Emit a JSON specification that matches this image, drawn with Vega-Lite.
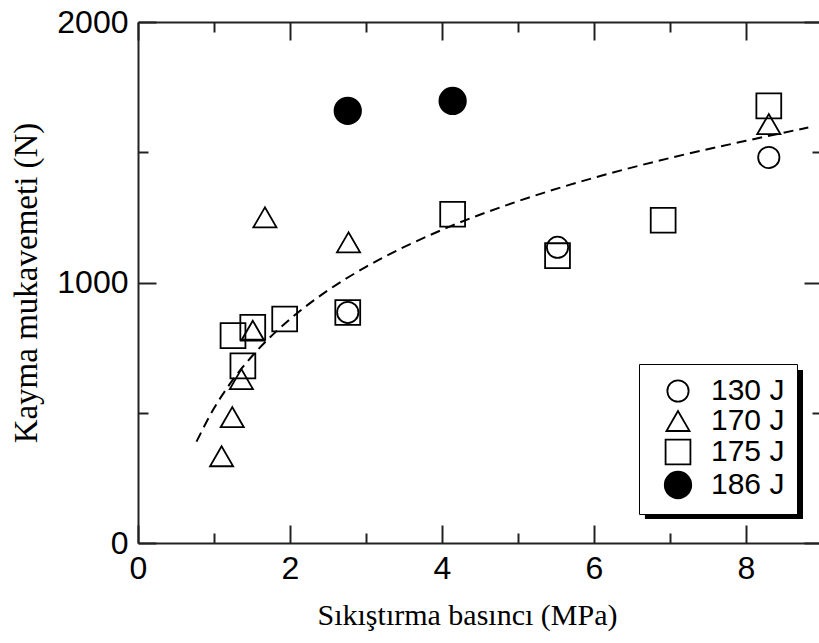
{
  "$schema": "https://vega.github.io/schema/vega-lite/v6.json",
  "width": 684,
  "height": 521,
  "autosize": "none",
  "padding": {"left": 138, "top": 22, "right": 0, "bottom": 100},
  "background": "white",
  "config": {
    "view": {"stroke": null},
    "axis": {"grid": false, "domainColor": "#222", "domainWidth": 2, "tickColor": "#222", "tickWidth": 2, "labelColor": "black", "titleColor": "black"}
  },
  "datasets": {
    "points": [
      {"p": 2.76, "f": 885, "series": "130 J"},
      {"p": 5.52, "f": 1135, "series": "130 J"},
      {"p": 8.30, "f": 1480, "series": "130 J"},
      {"p": 1.10, "f": 333, "series": "170 J"},
      {"p": 1.24, "f": 483, "series": "170 J"},
      {"p": 1.36, "f": 629, "series": "170 J"},
      {"p": 1.51, "f": 815, "series": "170 J"},
      {"p": 1.67, "f": 1250, "series": "170 J"},
      {"p": 2.77, "f": 1154, "series": "170 J"},
      {"p": 8.30, "f": 1608, "series": "170 J"},
      {"p": 1.25, "f": 796, "series": "175 J"},
      {"p": 1.38, "f": 680, "series": "175 J"},
      {"p": 1.51, "f": 828, "series": "175 J"},
      {"p": 1.93, "f": 860, "series": "175 J"},
      {"p": 2.76, "f": 885, "series": "175 J"},
      {"p": 4.14, "f": 1262, "series": "175 J"},
      {"p": 5.52, "f": 1103, "series": "175 J"},
      {"p": 6.91, "f": 1239, "series": "175 J"},
      {"p": 8.30, "f": 1678, "series": "175 J"},
      {"p": 2.76, "f": 1659, "series": "186 J"},
      {"p": 4.14, "f": 1697, "series": "186 J"}
    ],
    "curve": [
      {"p": 0.77, "f": 389},
      {"p": 1.0, "f": 517},
      {"p": 1.2, "f": 607},
      {"p": 1.5, "f": 717},
      {"p": 2.0, "f": 859},
      {"p": 2.5, "f": 970},
      {"p": 3.0, "f": 1060},
      {"p": 4.0, "f": 1202},
      {"p": 5.0, "f": 1312},
      {"p": 6.0, "f": 1402},
      {"p": 7.0, "f": 1478},
      {"p": 8.0, "f": 1544},
      {"p": 8.82, "f": 1595}
    ]
  },
  "layer": [
    {
      "data": {"values": [{}]},
      "mark": {"type": "rect", "color": "black"},
      "encoding": {
        "x": {"datum": 6.67, "type": "quantitative", "scale": {"domain": [0, 9], "nice": false}, "axis": null},
        "x2": {"datum": 8.75},
        "y": {"datum": 664, "type": "quantitative", "scale": {"domain": [0, 2000], "nice": false}, "axis": null},
        "y2": {"datum": 92}
      }
    },
    {
      "data": {"name": "curve"},
      "mark": {"type": "line", "color": "black", "strokeWidth": 2, "strokeDash": [10, 6], "interpolate": "monotone"},
      "encoding": {
        "x": {"field": "p", "type": "quantitative", "scale": {"domain": [0, 9], "nice": false},
          "axis": {"orient": "top", "values": [0,1,2,3,4,5,6,7,8,9], "labels": false, "title": null,
            "tickSize": {"condition": {"test": "datum.value % 2 === 0", "value": -18}, "value": -10}}},
        "y": {"field": "f", "type": "quantitative", "scale": {"domain": [0, 2000], "nice": false},
          "axis": {"orient": "right", "values": [0,500,1000,1500,2000], "labels": false, "title": null,
            "tickSize": {"condition": {"test": "datum.value % 1000 === 0", "value": -18}, "value": -10}}}
      }
    },
    {
      "data": {"name": "points"},
      "mark": {"type": "point", "stroke": "black", "strokeWidth": 1.8, "opacity": 1},
      "encoding": {
        "x": {"field": "p", "type": "quantitative", "scale": {"domain": [0, 9], "nice": false},
          "axis": {"orient": "bottom", "values": [0,1,2,3,4,5,6,7,8,9],
            "labelExpr": "datum.value % 2 === 0 ? datum.label : ''",
            "labelFlush": false, "labelOverlap": false,
            "labelFont": "Liberation Sans", "labelFontSize": 32, "labelPadding": 28,
            "tickSize": {"condition": {"test": "datum.value % 2 === 0", "value": -18}, "value": -10},
            "title": "Sıkıştırma basıncı (MPa)", "titleFont": "Liberation Serif", "titleFontSize": 30,
            "titleFontWeight": "normal", "titlePadding": 8, "titleX": 329}},
        "y": {"field": "f", "type": "quantitative", "scale": {"domain": [0, 2000], "nice": false},
          "axis": {"orient": "left", "values": [0,500,1000,1500,2000], "format": "d",
            "labelExpr": "datum.value % 1000 === 0 ? datum.label : ''",
            "labelFlush": false, "labelOverlap": false,
            "labelFont": "Liberation Sans", "labelFontSize": 32, "labelPadding": 28,
            "tickSize": {"condition": {"test": "datum.value % 1000 === 0", "value": -18}, "value": -10},
            "title": "Kayma mukavemeti (N)", "titleFont": "Liberation Serif", "titleFontSize": 33,
            "titleFontWeight": "normal", "titlePadding": 13}},
        "shape": {"field": "series", "type": "nominal",
          "scale": {"domain": ["130 J", "170 J", "175 J", "186 J"], "range": ["circle", "triangle-up", "square", "circle"]},
          "legend": {"orient": "none", "legendX": 501, "legendY": 342, "title": null,
            "labelFont": "Liberation Sans", "labelFontSize": 30, "labelColor": "black",
            "strokeColor": "black", "fillColor": "white", "padding": 12, "symbolOffset": 12,
            "labelOffset": 18, "rowPadding": -1, "symbolStrokeColor": "black", "symbolStrokeWidth": 1.8,
            "encode": {"legend": {"update": {"strokeWidth": {"value": 2}}}}}},
        "size": {"field": "series", "type": "nominal",
          "scale": {"domain": ["130 J", "170 J", "175 J", "186 J"], "range": [452, 700, 576, 573]}},
        "fill": {"field": "series", "type": "nominal",
          "scale": {"domain": ["130 J", "170 J", "175 J", "186 J"], "range": ["transparent", "transparent", "transparent", "black"]}}
      }
    }
  ],
  "resolve": {"axis": {"x": "independent", "y": "independent"}}
}
